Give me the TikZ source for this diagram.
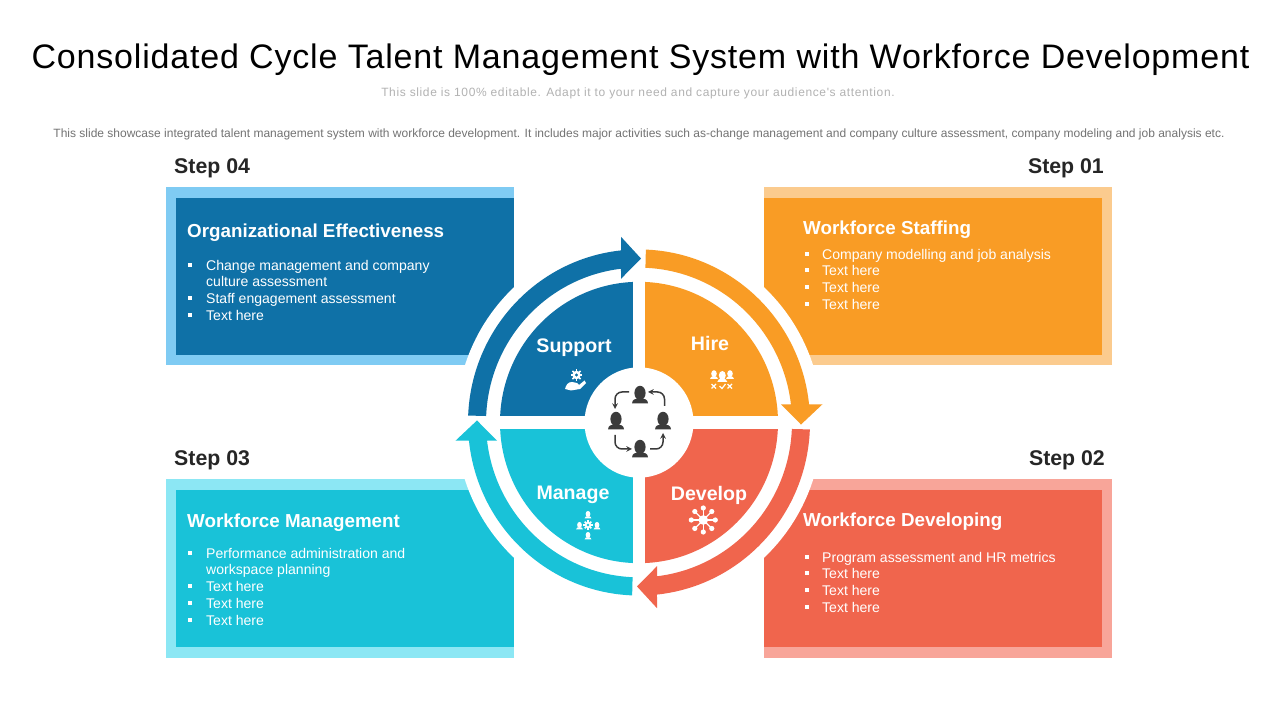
\documentclass[tikz,border=0pt]{standalone}
\usepackage{fontspec}
\setmainfont{Liberation Sans}
\newfontfamily\titlefont[LetterSpace=2.4]{Liberation Sans}
\newfontfamily\subfont[LetterSpace=5.2]{Liberation Sans}
\newfontfamily\descfont[LetterSpace=0]{Liberation Sans}
\definecolor{myblue}{HTML}{0F71A7}
\definecolor{lightblue}{HTML}{7FCBF3}
\definecolor{myorange}{HTML}{F99C25}
\definecolor{lightorange}{HTML}{FBCB8E}
\definecolor{myred}{HTML}{F0654D}
\definecolor{lightred}{HTML}{F8A599}
\definecolor{myteal}{HTML}{19C2D8}
\definecolor{lightteal}{HTML}{8CE7F4}
\definecolor{darktext}{HTML}{262626}
\definecolor{iconcolor}{HTML}{3B3B3B}
\tikzset{
  >=stealth,
  steplabel/.style={font=\bfseries\fontsize{21.3}{24}\selectfont, text=darktext, inner sep=0pt},
  boxtitle/.style={font=\bfseries\fontsize{18.8}{22}\selectfont, text=white, anchor=west, inner sep=0pt},
  listtext/.style={font=\fontsize{14.05}{17}\selectfont, text=white, anchor=base west, inner sep=0pt},
  bullet/.style={fill=white, minimum size=4pt, inner sep=0pt},
  sectorlabel/.style={font=\bfseries\fontsize{19.6}{24}\selectfont, text=white, inner sep=0pt},
  person/.pic={
    \fill (0,2.5) ellipse (5.6 and 7.2);
    \fill (-8,-8) .. controls (-8,-3.5) and (-4,-3.5) .. (-2.5,-3) -- (2.5,-3)
      .. controls (4,-3.5) and (8,-3.5) .. (8,-8) -- cycle;
  },
  cogicon/.pic={
    \fill[even odd rule] (0,0) circle (4.2) (0,0) circle (1.9);
    \foreach \a in {0,45,...,315}
      \draw[line width=1.6pt] (\a:3.4) -- (\a:5.8);
  },
}
\begin{document}
\begin{tikzpicture}[x=1pt,y=1pt]
  \useasboundingbox (0,0) rectangle (1280,720);
  \fill[white] (0,0) rectangle (1280,720);

  % header
  \node[inner sep=0pt] (title) at (640.5,660.5) {\titlefont\fontsize{34}{40}\selectfont Consolidated Cycle Talent Management System with Workforce Development};
  \node[inner sep=0pt, text=black!30] (subtitle) at (638,626.5) {\subfont\fontsize{12}{14}\selectfont This slide is 100\% editable. Adapt it to your need and capture your audience's attention.};
  \node[inner sep=0pt, text=black!55] (desc) at (639,586) {\descfont\fontsize{12}{14}\selectfont This slide showcase integrated talent management system with workforce development. It includes major activities such as-change management and company culture assessment, company modeling and job analysis etc.};

  % boxes
  \fill[lightblue] (166,355) rectangle (514,533);
  \fill[myblue] (176,365) rectangle (514,522);
  \fill[lightorange] (764,355) rectangle (1112,533);
  \fill[myorange] (764,365) rectangle (1102,522);
  \fill[lightteal] (166,62) rectangle (514,241);
  \fill[myteal] (176,73) rectangle (514,230);
  \fill[lightred] (764,62) rectangle (1112,241);
  \fill[myred] (764,73) rectangle (1102,230);

  % step labels
  \node[steplabel, anchor=west] (step4) at (174,552) {Step 04};
  \node[steplabel, anchor=east] (step1) at (1104,552) {Step 01};
  \node[steplabel, anchor=west] (step3) at (174,260) {Step 03};
  \node[steplabel, anchor=east] (step2) at (1105,260) {Step 02};

  % box texts
  \node[boxtitle] (orgtitle) at (187,487) {Organizational Effectiveness};
  \foreach \y/\txt in {455/Change management and company, 422/Staff engagement assessment, 405/Text here} {
    \node[bullet] at (190,\y) {};
    \node[listtext] at (206,\y-6) {\txt};
  }
  \node[listtext] at (206,433) {culture assessment};

  \node[boxtitle] (stafftitle) at (803,490) {Workforce Staffing};
  \foreach \y/\txt in {466/Company modelling and job analysis, 450/Text here, 433/Text here, 416/Text here} {
    \node[bullet] at (807,\y) {};
    \node[listtext] at (822,\y-6) {\txt};
  }

  \node[boxtitle] (mgmttitle) at (187,197) {Workforce Management};
  \foreach \y/\txt in {167/Performance administration and, 134/Text here, 117/Text here, 100/Text here} {
    \node[bullet] at (190,\y) {};
    \node[listtext] at (206,\y-6) {\txt};
  }
  \node[listtext] at (206,145) {workspace planning};

  \node[boxtitle] (devtitle) at (803,198) {Workforce Developing};
  \foreach \y/\txt in {163/Program assessment and HR metrics, 147/Text here, 130/Text here, 113/Text here} {
    \node[bullet] at (807,\y) {};
    \node[listtext] at (822,\y-6) {\txt};
  }

  % wheel
  \begin{scope}[shift={(639,297.5)}, yscale=1.012]
    \fill[white] (0,0) circle (183);
    \fill[myorange] (0,0) -- (90:139) arc[start angle=90, end angle=0, radius=139] -- cycle;
    \fill[myred] (0,0) -- (0:139) arc[start angle=0, end angle=-90, radius=139] -- cycle;
    \fill[myteal] (0,0) -- (-90:139) arc[start angle=-90, end angle=-180, radius=139] -- cycle;
    \fill[myblue] (0,0) -- (180:139) arc[start angle=180, end angle=90, radius=139] -- cycle;
    \draw[white, line width=13pt] (-146,0) -- (146,0);
    \draw[white, line width=12pt] (0,-146) -- (0,146);
    \fill[white] (0,0) circle (54.5);
    \foreach \ang/\col in {0/myblue, -90/myorange, -180/myred, -270/myteal}
      \fill[\col, rotate=\ang] (177.7:171) arc[start angle=177.7, end angle=96.04, radius=171]
        -- (-18,183.5) -- (2,162) -- (-18,142) -- (96.76:153)
        arc[start angle=96.76, end angle=177.6, radius=153] -- cycle;
  \end{scope}

  % sector labels
  \node[sectorlabel] (support) at (574,372) {Support};
  \node[sectorlabel] (hire) at (710,377) {Hire};
  \node[sectorlabel] (manage) at (573,225) {Manage};
  \node[sectorlabel] (develop) at (709,225) {Develop};

  % centre icon
  \pic[iconcolor] at (640,324.5) {person};
  \pic[iconcolor] at (616,298.5) {person};
  \pic[iconcolor] at (663,298.5) {person};
  \pic[iconcolor] at (640,270.5) {person};
  \draw[->, iconcolor, line width=1.5pt, rounded corners=7pt] (629,328) -- (615,328) -- (615,311);
  \draw[->, iconcolor, line width=1.5pt, rounded corners=7pt] (664.5,314) -- (664.5,328) -- (648,328);
  \draw[->, iconcolor, line width=1.5pt, rounded corners=7pt] (615,285) -- (615,271) -- (632,271);
  \draw[->, iconcolor, line width=1.5pt, rounded corners=7pt] (650,271) -- (663,271) -- (663,287);

  % support icon
  \pic[white] at (576.5,345) {cogicon};
  \fill[white] (565,331) .. controls (566,335) and (568,338) .. (572,338) -- (577,337)
    -- (579,335) -- (584.5,339.5) -- (586,337) -- (580,331) -- (571,329.5) -- cycle;

  % hire icon
  \pic[white, scale=.5] at (714,345) {person};
  \pic[white, scale=.5] at (730,345) {person};
  \pic[white, scale=.62] at (722.3,343) {person};
  \draw[white, line width=1.2pt] (711.5,331.5) -- (716,336) (711.5,336) -- (716,331.5);
  \draw[white, line width=1.2pt] (727.5,331.5) -- (732,336) (727.5,336) -- (732,331.5);
  \draw[white, line width=1.2pt] (719.5,334) -- (722,331.5) -- (725.5,336);

  % develop icon
  \fill[white] (703.3,200) circle (4.8);
  \foreach \a in {0,45,...,315} {
    \draw[white, line width=1.3pt] (703.3,200) -- ++(\a:12);
    \fill[white] (703.3,200) ++(\a:12) circle (2.6);
  }

  % manage icon
  \pic[white, scale=.42] at (588,205) {person};
  \pic[white, scale=.42] at (579.5,194) {person};
  \pic[white, scale=.42] at (597,194) {person};
  \pic[white, scale=.42] at (588,184) {person};
  \pic[white, scale=.8] at (588,195) {cogicon};
\end{tikzpicture}
\end{document}
